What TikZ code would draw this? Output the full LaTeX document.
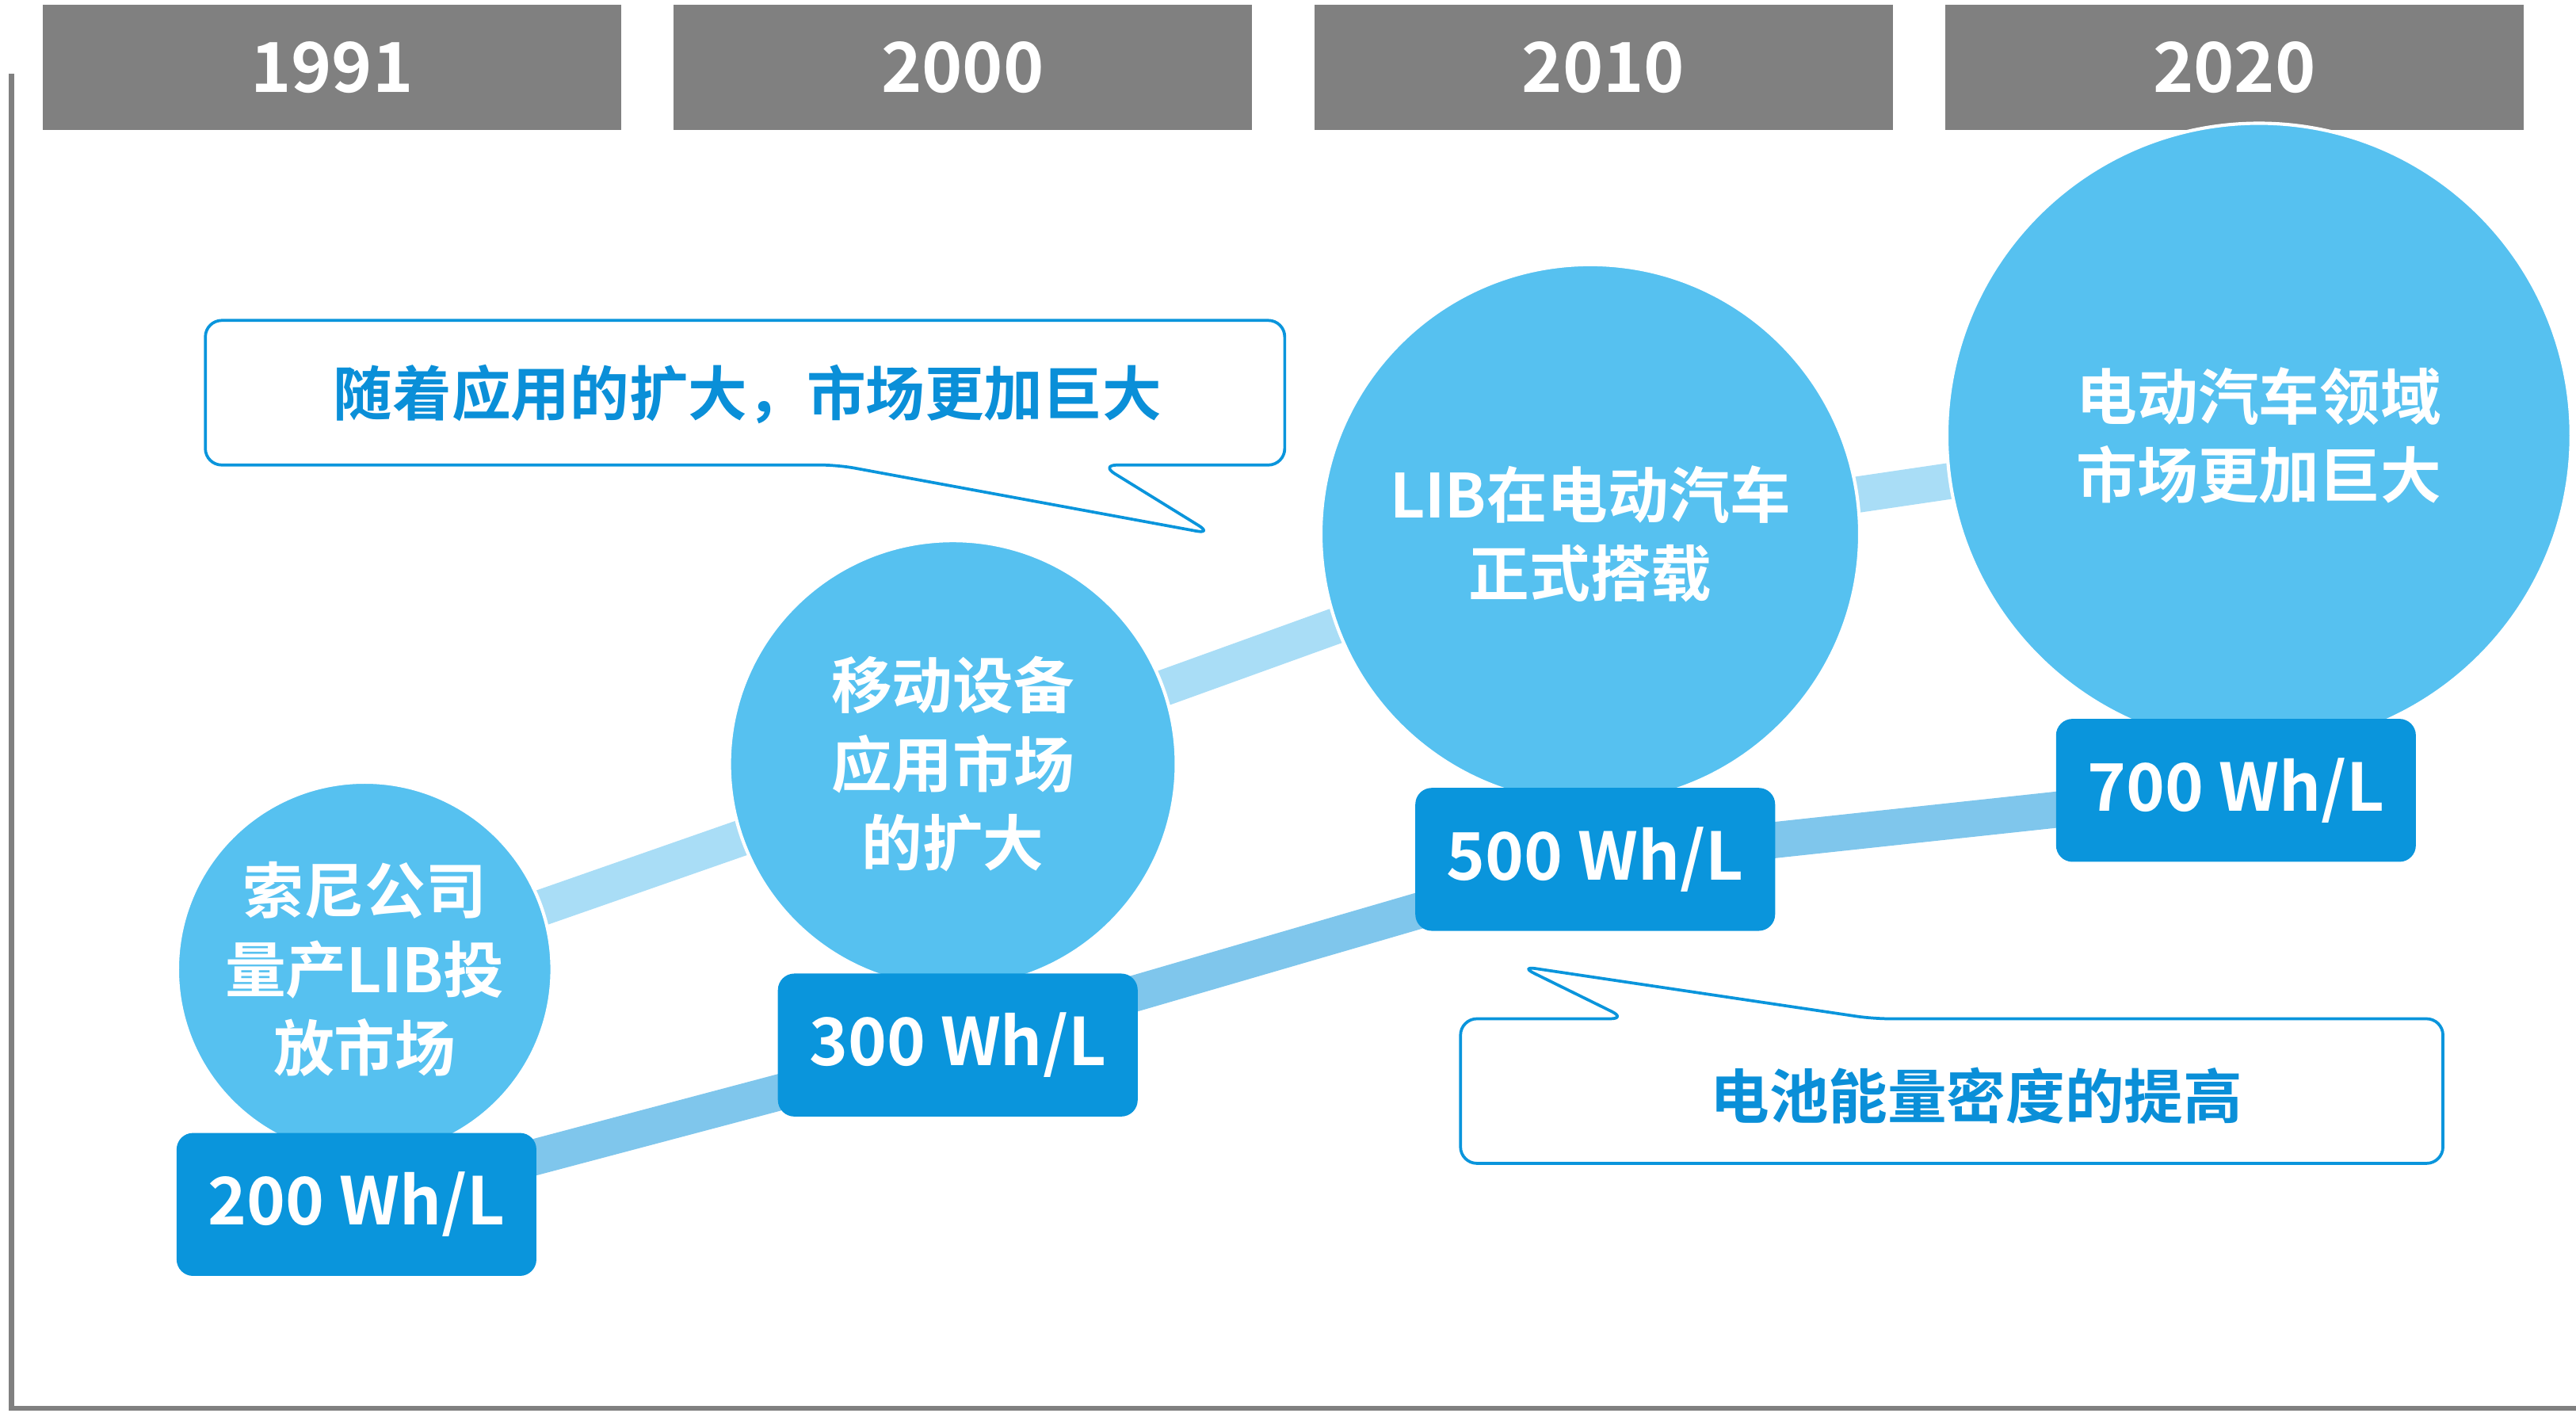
\documentclass[tikz,border=0pt]{standalone}
\usepackage{fontspec}
\setmainfont{Noto Sans CJK SC}[BoldFont={* Bold}]
\definecolor{hdr}{HTML}{808080}
\definecolor{circ}{HTML}{56C1F0}
\definecolor{boxc}{HTML}{0A95DC}
\definecolor{bandA}{HTML}{A9DDF6}
\definecolor{bandB}{HTML}{7FC6EC}
\definecolor{txtb}{HTML}{0A8FD8}
\begin{document}
\begin{tikzpicture}[x=0.5pt,y=-0.5pt,
  hdrbox/.style={fill=hdr,draw=none,minimum width=176pt,minimum height=38pt,inner sep=0,text=white,font=\bfseries\fontsize{21}{24}\selectfont},
  bub/.style={circle,fill=circ,draw=white,line width=1pt,inner sep=0,text=white,align=center,font=\bfseries\fontsize{18.5}{24}\selectfont},
  val/.style={rounded corners=5pt,fill=boxc,draw=none,minimum width=109.5pt,minimum height=43.5pt,inner sep=0,text=white,font=\bfseries\fontsize{20}{24}\selectfont},
  call/.style={draw=boxc,line width=0.9pt,fill=white,rounded corners=5pt},
  calltxt/.style={text=txtb,font=\bfseries\fontsize{18}{22}\selectfont}]
\useasboundingbox (0,0) rectangle (1568,862);
\draw[hdr,line width=1.5pt] (7,45) coordinate (ax1) -- (7,857) coordinate (ax0) -- (1568,857) coordinate (ax2);
\node[hdrbox] (h1) at (202,41) {1991};
\node[hdrbox] (h2) at (586,41) {2000};
\node[hdrbox] (h3) at (976,41) {2010};
\node[hdrbox] (h4) at (1360,41) {2020};
% bands
\draw[bandA,line width=11pt] (222,590) -- (580,465) -- (968,325) -- (1375,265);
\draw[bandB,line width=11pt] (217,733) -- (583,636) -- (971,523) -- (1361,481);
% circles
\node[bub,minimum size=228\pgflinewidth/1pt*0+114pt] (c1) at (222,590) {索尼公司\\量产LIB投\\放市场};
\node[bub,minimum size=136pt] (c2) at (580,465) {移动设备\\应用市场\\的扩大};
\node[bub,minimum size=164pt] (c3) at (968,325) {LIB在电动汽车\\正式搭载};
\node[bub,minimum size=190pt] (c4) at (1375,265) {电动汽车领域\\市场更加巨大};
\node[val] (v1) at (217,733) {200 Wh/L};
\node[val] (v2) at (583,636) {300 Wh/L};
\node[val] (v3) at (971,523) {500 Wh/L};
\node[val] (v4) at (1361,481) {700 Wh/L};
% callouts
\draw[call] (125,283) -- (125,195) -- (782,195) -- (782,283) -- (670,283) -- (738,325) -- (510,283) -- cycle;
\node[calltxt] (t1) at (455,240) {随着应用的扩大，市场更加巨大};
\draw[call] (889,708) -- (889,620) -- (990,620) -- (925,588) -- (1140,620) -- (1487,620) -- (1487,708) -- cycle;
\node[calltxt] (t2) at (1203,667) {电池能量密度的提高};
\end{tikzpicture}
\end{document}
